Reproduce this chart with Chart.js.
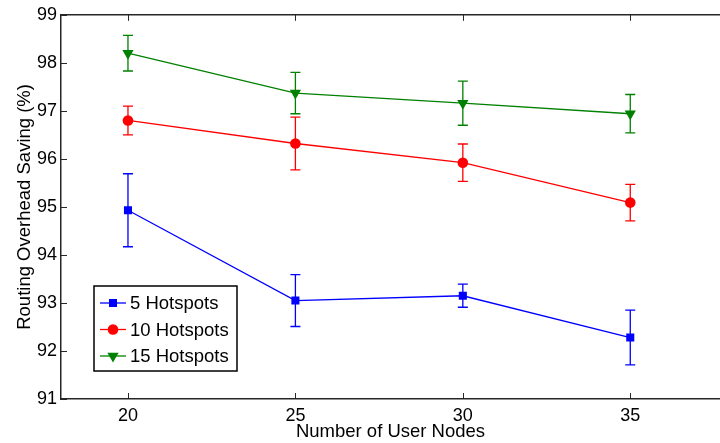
<!DOCTYPE html>
<html>
<head>
<meta charset="utf-8">
<script src="https://cdn.jsdelivr.net/npm/chart.js@4/dist/chart.umd.min.js"></script>
<style>
html, body { margin: 0; padding: 0; background: #fff; overflow: hidden; }
</style>
</head>
<body>
<canvas id="myChart" width="720" height="443"></canvas>
<script>
const xValues = [20, 25, 30, 35];
const yTicks = [91, 92, 93, 94, 95, 96, 97, 98, 99];
const seriesNames = ["5 Hotspots", "10 Hotspots", "15 Hotspots"];
const hot5 = [94.93, 93.05, 93.15, 92.28];
const hot5Err = [0.76, 0.54, 0.24, 0.57];
const hot10 = [96.80, 96.32, 95.92, 95.09];
const hot10Err = [0.30, 0.55, 0.39, 0.38];
const hot15 = [98.20, 97.37, 97.16, 96.94];
const hot15Err = [0.37, 0.43, 0.46, 0.40];

const colors = ["#0000ff", "#ff0000", "#008000"];
const styles = ["rect", "circle", "triangle"];
const radii = [5.7, 5.3, 6.5];
const errs = [hot5Err, hot10Err, hot15Err];
const axisColor = "#262626";
const fontFamily = "'Liberation Sans', Arial, Helvetica, sans-serif";

function pts(arr) {
    return xValues.map((x, i) => ({x: x, y: arr[i]}));
}

function makeSet(i, arr) {
    return {
        label: seriesNames[i],
        data: pts(arr),
        borderColor: colors[i],
        backgroundColor: colors[i],
        borderWidth: 1.3,
        pointStyle: styles[i],
        pointRadius: radii[i],
        pointRotation: i == 2 ? 180 : 0,
        pointBorderWidth: 0,
        tension: 0
    };
}

function marker(ctx, style, x, y, r) {
    ctx.beginPath();
    if (style == "rect") {
        var s = Math.SQRT1_2 * r;
        ctx.rect(x - s, y - s, 2 * s, 2 * s);
    } else if (style == "circle") {
        ctx.arc(x, y, r, 0, Math.PI * 2);
    } else {
        // triangle pointing down
        ctx.moveTo(x, y + r);
        ctx.lineTo(x + r * Math.cos(Math.PI / 6), y - r / 2);
        ctx.lineTo(x - r * Math.cos(Math.PI / 6), y - r / 2);
        ctx.closePath();
    }
    ctx.fill();
}

const extras = {
    id: "extras",
    beforeDatasetsDraw(chart) {
        var ctx = chart.ctx;
        var xs = chart.scales.x, ys = chart.scales.y;
        ctx.save();
        ctx.lineWidth = 1.3;
        chart.data.datasets.forEach(function(ds, i) {
            ctx.strokeStyle = colors[i];
            ds.data.forEach(function(p, j) {
                var px = xs.getPixelForValue(p.x);
                var top = ys.getPixelForValue(p.y + errs[i][j]);
                var bot = ys.getPixelForValue(p.y - errs[i][j]);
                ctx.beginPath();
                ctx.moveTo(px, top); ctx.lineTo(px, bot);
                ctx.moveTo(px - 5, top); ctx.lineTo(px + 5, top);
                ctx.moveTo(px - 5, bot); ctx.lineTo(px + 5, bot);
                ctx.stroke();
            });
        });
        ctx.restore();
    },
    afterDraw(chart) {
        var ctx = chart.ctx;
        var a = chart.chartArea;
        var xs = chart.scales.x, ys = chart.scales.y;
        ctx.save();
        // top border
        ctx.strokeStyle = axisColor;
        ctx.lineWidth = 1.5;
        ctx.beginPath();
        ctx.moveTo(a.left, a.top); ctx.lineTo(a.right, a.top);
        ctx.stroke();
        // inward ticks
        ctx.lineWidth = 1;
        ctx.beginPath();
        xValues.forEach(function(v) {
            var px = Math.round(xs.getPixelForValue(v)) + 0.5;
            ctx.moveTo(px, a.bottom); ctx.lineTo(px, a.bottom - 6);
            ctx.moveTo(px, a.top); ctx.lineTo(px, a.top + 6);
        });
        yTicks.forEach(function(v) {
            var py = Math.round(ys.getPixelForValue(v)) + 0.5;
            ctx.moveTo(a.left, py); ctx.lineTo(a.left + 6, py);
        });
        ctx.stroke();

        // legend box
        var bx = 94, by = 286, bw = 143, bh = 85;
        ctx.fillStyle = "#fff";
        ctx.fillRect(bx, by, bw, bh);
        ctx.strokeStyle = "#000";
        ctx.lineWidth = 1.5;
        ctx.strokeRect(bx, by, bw, bh);
        ctx.font = "18.5px " + fontFamily;
        ctx.textBaseline = "middle";
        seriesNames.forEach(function(name, i) {
            var ry = 303 + i * 26.5;
            ctx.strokeStyle = colors[i];
            ctx.fillStyle = colors[i];
            ctx.lineWidth = 1.3;
            ctx.beginPath();
            ctx.moveTo(100, ry); ctx.lineTo(126, ry);
            ctx.stroke();
            marker(ctx, styles[i], 113, ry, radii[i]);
            ctx.fillStyle = "#000";
            ctx.fillText(name, 130, ry + 1);
        });
        ctx.restore();
    }
};

new Chart("myChart", {
    type: "line",
    data: {
        datasets: [makeSet(0, hot5), makeSet(1, hot10), makeSet(2, hot15)]
    },
    options: {
        responsive: false,
        animation: false,
        devicePixelRatio: 1,
        layout: {autoPadding: false, padding: {top: 14, right: 0, left: 0, bottom: 0}},
        plugins: {legend: {display: false}, tooltip: {enabled: false}},
        scales: {
            x: {
                type: "linear",
                min: 18,
                max: 37.68,
                afterBuildTicks: function(s) { s.ticks = xValues.map(v => ({value: v})); },
                afterFit: function(s) { s.height = 44; },
                grid: {display: false, drawTicks: false},
                border: {display: true, color: axisColor, width: 1.5},
                ticks: {color: "#000", padding: 6, font: {size: 18, family: fontFamily}},
                title: {display: true, text: "Number of User Nodes", color: "#000",
                        padding: {top: 0, bottom: 0}, font: {size: 18.5, family: fontFamily}}
            },
            y: {
                min: 91,
                max: 99,
                afterBuildTicks: function(s) { s.ticks = yTicks.map(v => ({value: v})); },
                afterFit: function(s) { s.width = 61; },
                grid: {display: false, drawTicks: false},
                border: {display: true, color: axisColor, width: 1.5},
                ticks: {color: "#000", padding: 4, font: {size: 18, family: fontFamily}},
                title: {display: true, text: "Routing Overhead Saving (%)", color: "#000",
                        padding: {top: 14, bottom: 0}, font: {size: 18.5, family: fontFamily}}
            }
        }
    },
    plugins: [extras]
});
</script>
</body>
</html>
